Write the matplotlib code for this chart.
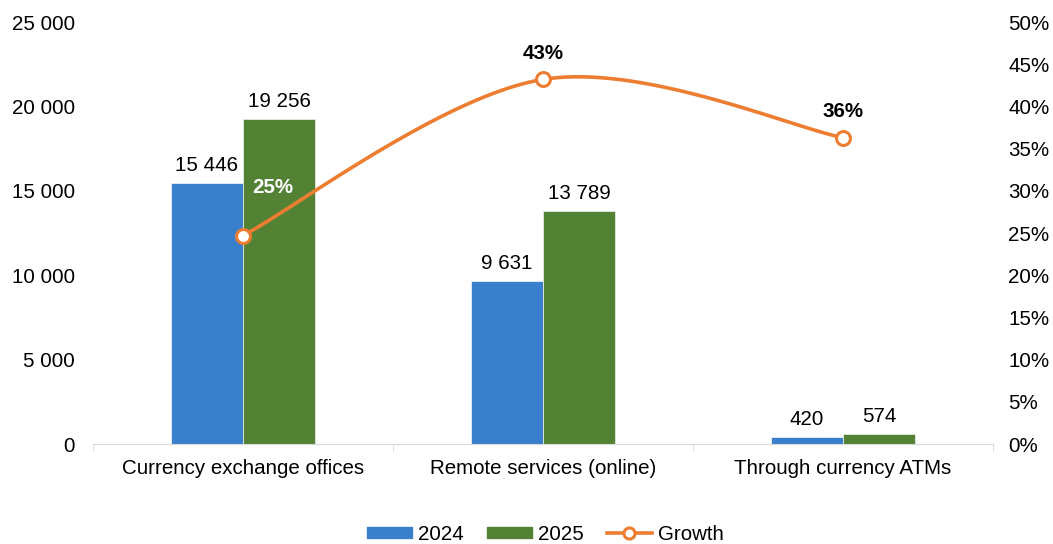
import matplotlib
matplotlib.use("Agg")
import matplotlib.pyplot as plt
from matplotlib.lines import Line2D
from matplotlib.patches import Patch
import numpy as np

plt.rcParams['font.family'] = ['Liberation Sans', 'DejaVu Sans']

# Data
categories = ['Currency exchange offices', 'Remote services (online)', 'Through currency ATMs']
vals_2024 = [15446, 9631, 420]
vals_2025 = [19256, 13789, 574]
growth = [0.247, 0.432, 0.363]
growth_labels = ['25%', '43%', '36%']

c_2024 = '#3A7FCC'
c_2025 = '#548235'
c_growth = '#ED7D31'
fs = 14.8

fig = plt.figure(figsize=(10.53, 5.44), dpi=100)
ax = fig.add_axes([0.0883, 0.1838, 0.8547, 0.7757])
ax2 = ax.twinx()

x = np.arange(len(categories))
w = 0.24
ax.bar(x - w / 2, vals_2024, w, color=c_2024, edgecolor='#E6EEF7', linewidth=0.6)
ax.bar(x + w / 2, vals_2025, w, color=c_2025, edgecolor='#E2EBDD', linewidth=0.6)

def fmt(v):
    return f"{v:,}".replace(",", " ")

for xi, v in zip(x - w / 2, vals_2024):
    ax.annotate(fmt(v), (xi, v), xytext=(0, 6), textcoords='offset points',
                ha='center', va='bottom', fontsize=fs)
for xi, v in zip(x + w / 2, vals_2025):
    ax.annotate(fmt(v), (xi, v), xytext=(0, 6), textcoords='offset points',
                ha='center', va='bottom', fontsize=fs)

ax.set_xlim(-0.5, 2.5)
ax.set_ylim(0, 25000)
ax.set_yticks(np.arange(0, 25001, 5000))
ax.set_yticklabels([fmt(t) for t in range(0, 25001, 5000)], fontsize=fs)
ax.set_xticks(x)
ax.set_xticklabels(categories, fontsize=fs)
ax.set_xticks([-0.5, 0.5, 1.5, 2.5], minor=True)
ax.tick_params(axis='x', which='major', length=0, pad=11)
ax.tick_params(axis='x', which='minor', length=5, color='#D9D9D9')
ax.tick_params(axis='y', length=0, pad=13)

ax2.set_ylim(0, 0.5)
ax2.set_yticks(np.arange(0, 0.501, 0.05))
ax2.set_yticklabels([f"{int(round(t * 100))}%" for t in np.arange(0, 0.501, 0.05)], fontsize=fs)
ax2.tick_params(axis='y', length=0, pad=11)

for a in (ax, ax2):
    for s in ('top', 'left', 'right', 'bottom'):
        a.spines[s].set_visible(False)
ax.spines['bottom'].set_visible(True)
ax.spines['bottom'].set_color('#D9D9D9')

# smoothed growth line (cardinal spline through the points, in display space)
pts = ax2.transData.transform(np.column_stack([x, growth]))
P = np.vstack([pts[0], pts, pts[-1]])
curve = []
t = np.linspace(0, 1, 60)[:, None]
for i in range(1, len(P) - 2):
    p0, p1, p2, p3 = P[i - 1], P[i], P[i + 1], P[i + 2]
    c1 = p1 + (p2 - p0) / 6
    c2 = p2 - (p3 - p1) / 6
    seg = ((1 - t) ** 3) * p1 + 3 * ((1 - t) ** 2) * t * c1 + 3 * (1 - t) * t ** 2 * c2 + t ** 3 * p2
    curve.append(seg)
curve = ax2.transData.inverted().transform(np.vstack(curve))
ax2.plot(curve[:, 0], curve[:, 1], color=c_growth, lw=2.6, zorder=3)
ax2.plot(x, growth, 'o', color=c_growth, mfc='white', mec=c_growth, mew=2.2, ms=10, zorder=4)

ax2.text(x[0] + 0.1, growth[0] + 0.057, growth_labels[0], color='white', fontweight='bold',
         ha='center', va='center', fontsize=fs, zorder=5)
for i in (1, 2):
    ax2.annotate(growth_labels[i], (x[i], growth[i]), xytext=(0, 12), textcoords='offset points',
                 ha='center', va='bottom', fontsize=fs, fontweight='bold')

handles = [Patch(color=c_2024, label='2024'), Patch(color=c_2025, label='2025'),
           Line2D([0], [0], color=c_growth, lw=2.6, marker='o', mfc='white', mec=c_growth,
                  mew=2.2, ms=8, label='Growth')]
fig.legend(handles=handles, loc='center', bbox_to_anchor=(0.518, 0.018), ncol=3, frameon=False,
           fontsize=fs, handlelength=2.2, handleheight=0.5, columnspacing=1.1, handletextpad=0.3)

fig.savefig('out.png', dpi=100)
